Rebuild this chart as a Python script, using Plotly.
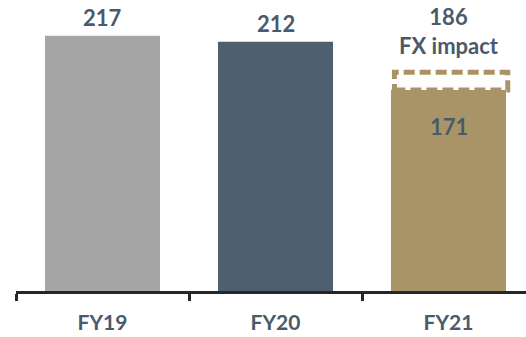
import plotly.graph_objects as go

# Fiscal years and reported values
years = ["FY19", "FY20", "FY21"]
values = [217, 212, 171]
colors = ["#a6a6a6", "#4e5f70", "#a99467"]

# FY21 at constant currency (FX impact on top of reported value)
fx_year = "FY21"
fx_value = 186

text_color = "#4a5a6b"
font_family = "Lato, 'Open Sans', sans-serif"
label_size = 22
bar_width = 0.665

fig = go.Figure()
fig.add_trace(go.Bar(
    x=years, y=values,
    marker=dict(color=colors, line=dict(width=0)),
    width=bar_width,
    hoverinfo="skip",
))

annotations = []
for yr, v in zip(years, values):
    if yr == fx_year:
        # value inside the bar
        annotations.append(dict(
            x=yr, y=v, text=f"<b>{v}</b>", showarrow=False,
            yanchor="top", yshift=-21,
            font=dict(size=label_size, color=text_color, family=font_family),
        ))
    else:
        annotations.append(dict(
            x=yr, y=v, text=f"<b>{v}</b>", showarrow=False,
            yanchor="bottom", yshift=3,
            font=dict(size=label_size, color=text_color, family=font_family),
        ))

fx_idx = years.index(fx_year)
annotations.append(dict(
    x=fx_year, y=fx_value, text=f"<b>{fx_value}</b><br><b>FX impact</b>",
    showarrow=False, yanchor="bottom", yshift=11,
    font=dict(size=label_size, color=text_color, family=font_family),
))

# dashed outline showing the FX gap
fig.add_shape(
    type="rect", xref="x", yref="y",
    x0=fx_idx - bar_width / 2 + 0.02, x1=fx_idx + bar_width / 2 + 0.01,
    y0=values[fx_idx], y1=fx_value,
    line=dict(color=colors[fx_idx], width=5, dash="11px,5px"),
    fillcolor="white", layer="above",
)

fig.update_layout(
    width=526, height=337,
    margin=dict(l=16, r=0, t=0, b=46),
    paper_bgcolor="white", plot_bgcolor="white",
    showlegend=False,
    annotations=annotations,
    xaxis=dict(
        range=[-0.5, 2.448],
        showline=True, linecolor="#262626", linewidth=3,
        ticks="outside", tickson="boundaries", ticklen=7, tickwidth=3,
        tickcolor="#262626",
        ticklabelstandoff=11,
        tickfont=dict(size=21, color=text_color, family=font_family),
        tickprefix="<b>", ticksuffix="</b>",
        showgrid=False, zeroline=False, fixedrange=True,
    ),
    yaxis=dict(
        range=[0, 247.5], visible=False, showgrid=False, zeroline=False,
        fixedrange=True,
    ),
)

fig.write_html("out.html")
